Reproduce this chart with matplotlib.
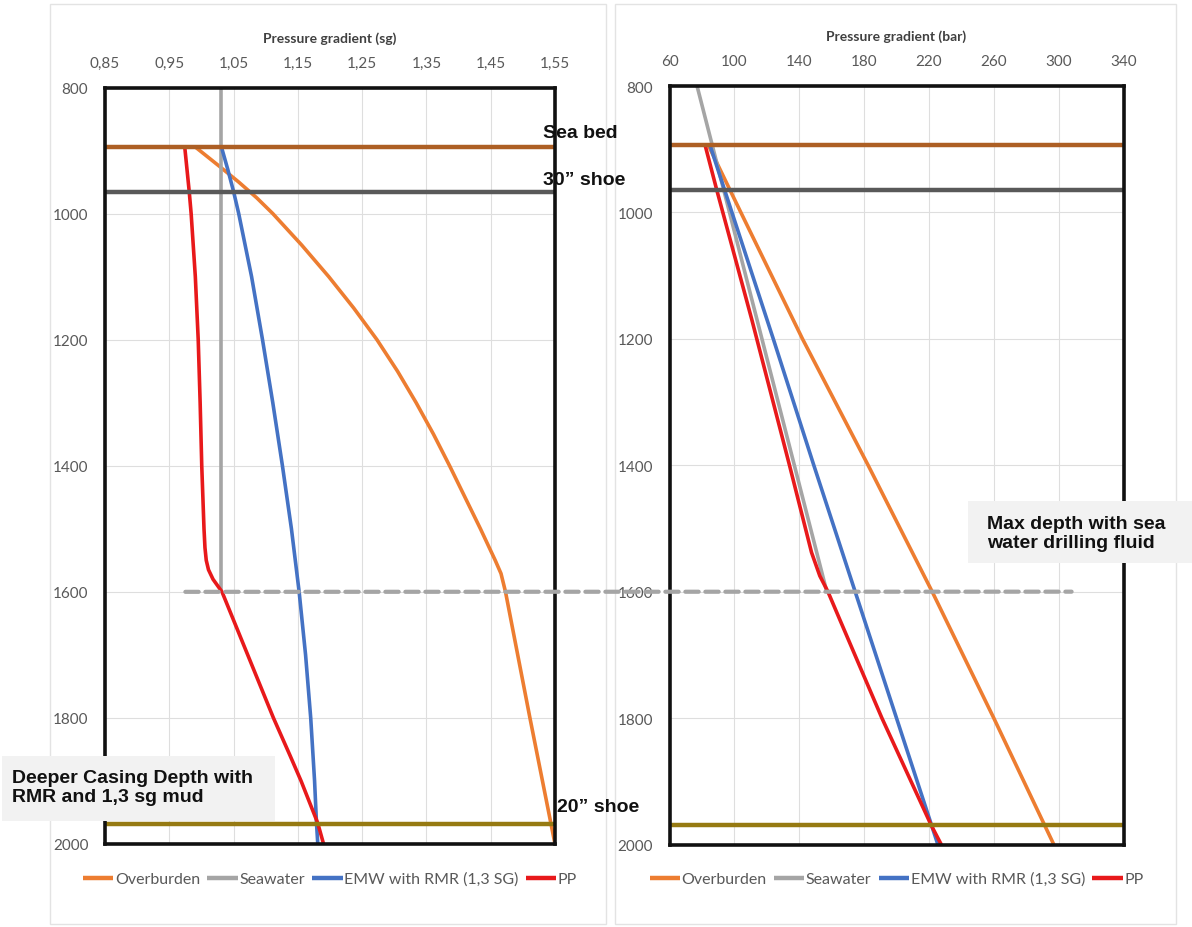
import matplotlib
matplotlib.use("Agg")
import matplotlib.pyplot as plt
from matplotlib.patches import Rectangle, ConnectionPatch

W, H = 1192, 928

# ---------------- data ----------------
depth_ticks = [800, 1000, 1200, 1400, 1600, 1800, 2000]

sg_ticks = [0.85, 0.95, 1.05, 1.15, 1.25, 1.35, 1.45, 1.55]
sg_tick_labels = ["0,85", "0,95", "1,05", "1,15", "1,25", "1,35", "1,45", "1,55"]
bar_ticks = [60, 100, 140, 180, 220, 260, 300, 340]
bar_tick_labels = ["60", "100", "140", "180", "220", "260", "300", "340"]

series_names = ["Overburden", "Seawater", "EMW with RMR (1,3 SG)", "PP"]

# left panel (sg)
ob_sg_depth = [894, 925, 950, 975, 1000, 1050, 1100, 1150, 1200, 1250, 1300, 1350,
               1400, 1450, 1500, 1550, 1571, 1600, 1800, 2000]
ob_sg = [0.99, 1.028, 1.058, 1.086, 1.111, 1.156, 1.198, 1.237, 1.273, 1.305, 1.334, 1.361,
         1.386, 1.410, 1.434, 1.457, 1.466, 1.473, 1.511, 1.55]

sw_sg_depth = [800, 1600]
sw_sg = [1.03, 1.03]

emw_sg_depth = [894, 930, 965, 1000, 1050, 1100, 1200, 1300, 1400, 1500, 1600, 1700, 1800, 1900, 1967, 2000]
emw_sg = [1.031, 1.041, 1.050, 1.058, 1.068, 1.078, 1.095, 1.111, 1.126, 1.140, 1.152, 1.162, 1.170, 1.176, 1.179, 1.181]

pp_sg_depth = [894, 965, 1000, 1100, 1200, 1300, 1400, 1500, 1530, 1550, 1565, 1580, 1600, 1650, 1700, 1750,
               1800, 1860, 1900, 1967, 2000]
pp_sg = [0.974, 0.981, 0.984, 0.9905, 0.995, 0.998, 1.0005, 1.004, 1.0055, 1.0075, 1.011, 1.018, 1.032, 1.052, 1.072, 1.092,
         1.112, 1.138, 1.155, 1.181, 1.19]

# right panel (bar)
ob_bar_depth = [894, 1000, 1200, 1400, 1600, 1800, 2000]
ob_bar = [84, 104, 142, 182.5, 222, 260, 297]

sw_bar_depth = [800, 1600]
sw_bar = [77, 157]

emw_bar_depth = [894, 1000, 1200, 1400, 1600, 1800, 2000]
emw_bar = [85, 98.5, 124, 149, 174.5, 200, 225.5]

pp_bar_depth = [894, 965, 1169, 1400, 1538, 1575, 1600, 1644, 1800, 1970, 2000]
pp_bar = [82, 89.2, 110.7, 134, 147.6, 152.7, 157.7, 165, 191, 221.5, 227.6]

# reference depths
seabed_depth = 894
shoe30_depth = 965
shoe20_depth = 1969
max_sw_depth = 1600

# ---------------- style ----------------
c_ob = "#ED7D31"
c_sw = "#A5A5A5"
c_emw = "#4472C4"
c_pp = "#E8191B"
c_seabed = "#AD5F24"
c_shoe30 = "#595959"
c_shoe20 = "#967A12"
txt_gray = "#595959"

plt.rcParams["font.family"] = ["Lato", "DejaVu Sans"]

fig = plt.figure(figsize=(W / 100, H / 100), dpi=100)
fig.patch.set_facecolor("white")


def fx(px):
    return px / W


def fy(py):
    return 1 - py / H


# chart-area outlines
for (x0, x1) in [(50, 606), (615, 1176)]:
    fig.patches.append(Rectangle((fx(x0), fy(925)), fx(x1 - x0), (925 - 5) / H,
                                 transform=fig.transFigure, fill=False,
                                 edgecolor="#e3e3e3", lw=1.0, zorder=0))

ax1 = fig.add_axes([fx(105), fy(845), fx(555 - 105), (845 - 88.5) / H])
ax2 = fig.add_axes([fx(669.5), fy(845.5), fx(1123.5 - 669.5), (845.5 - 87) / H])

lw = 2.6
panels = [
    (ax1, sg_ticks, sg_tick_labels, "Pressure gradient (sg)",
     [(ob_sg_depth, ob_sg), (sw_sg_depth, sw_sg), (emw_sg_depth, emw_sg), (pp_sg_depth, pp_sg)]),
    (ax2, bar_ticks, bar_tick_labels, "Pressure gradient (bar)",
     [(ob_bar_depth, ob_bar), (sw_bar_depth, sw_bar), (emw_bar_depth, emw_bar), (pp_bar_depth, pp_bar)]),
]
colors = [c_ob, c_sw, c_emw, c_pp]

for ax, xt, xtl, xlabel, data in panels:
    handles = []
    for (d, v), col, name in zip(data, colors, series_names):
        h, = ax.plot(v, d, color=col, lw=lw, zorder=2, solid_capstyle="butt",
                     solid_joinstyle="round", label=name)
        handles.append(h)
    ax.axhline(seabed_depth, color=c_seabed, lw=3.2, zorder=2.3)
    ax.axhline(shoe30_depth, color=c_shoe30, lw=3.2, zorder=2.3)
    ax.axhline(shoe20_depth, color=c_shoe20, lw=3.2, zorder=2.3)

    ax.set_xlim(xt[0], xt[-1])
    ax.set_ylim(depth_ticks[-1], depth_ticks[0])
    ax.set_xticks(xt)
    ax.set_xticklabels(xtl)
    ax.set_yticks(depth_ticks)
    ax.set_yticklabels([str(t) for t in depth_ticks])
    ax.xaxis.tick_top()
    ax.xaxis.set_label_position("top")
    ax.tick_params(axis="both", length=0, labelsize=11, labelcolor=txt_gray)
    ax.tick_params(axis="x", pad=13)
    ax.tick_params(axis="y", pad=12)
    ax.set_xlabel(xlabel, fontsize=10, color="#404040", fontweight="bold", labelpad=10)
    ax.grid(True, color="#dedede", lw=0.8, zorder=0)
    ax.set_axisbelow(True)
    for s in ax.spines.values():
        s.set_linewidth(2.6)
        s.set_color("#111111")
        s.set_zorder(3)

    pos = ax.get_position()
    leg = ax.legend(handles=handles, loc="center",
                    bbox_to_anchor=((pos.x0 + pos.x1) / 2, fy(880)),
                    bbox_transform=fig.transFigure, ncol=4, frameon=False,
                    fontsize=11.5, handlelength=1.9, handletextpad=0.1, columnspacing=0.45,
                    borderaxespad=0)
    for t in leg.get_texts():
        t.set_color(txt_gray)
    for lh in leg.get_lines():
        lh.set_linewidth(3.2)

# dashed max-depth line spanning both panels
con = ConnectionPatch(xyA=(0.975, max_sw_depth), coordsA=ax1.transData,
                      xyB=(308, max_sw_depth), coordsB=ax2.transData,
                      color="#A5A5A5", lw=3.0, linestyle=(0, (3.2, 1.6)), zorder=5)
fig.add_artist(con)

# annotation boxes
bold = dict(family=["Liberation Sans", "DejaVu Sans"], fontweight="bold", fontsize=14, color="#111111")
fig.patches.append(Rectangle((fx(968), fy(564)), fx(1192 - 968), (564 - 502) / H,
                             transform=fig.transFigure, facecolor="#f2f2f2", edgecolor="none", zorder=4))
fig.text(fx(987), fy(534), "Max depth with sea\nwater drilling fluid", ha="left", va="center",
         linespacing=1.1, zorder=6, **bold)
fig.patches.append(Rectangle((fx(2), fy(822)), fx(275 - 2), (822 - 757) / H,
                             transform=fig.transFigure, facecolor="#f2f2f2", edgecolor="none", zorder=4))
fig.text(fx(12), fy(788), "Deeper Casing Depth with\nRMR and 1,3 sg mud", ha="left", va="center",
         linespacing=1.1, zorder=6, **bold)

fig.text(fx(543), fy(134), "Sea bed", ha="left", va="center", zorder=6, **bold)
fig.text(fx(543), fy(181), "30\u201d shoe", ha="left", va="center", zorder=6, **bold)
fig.text(fx(557), fy(808), "20\u201d shoe", ha="left", va="center", zorder=6, **bold)

fig.savefig("out.png", dpi=100, facecolor="white")
